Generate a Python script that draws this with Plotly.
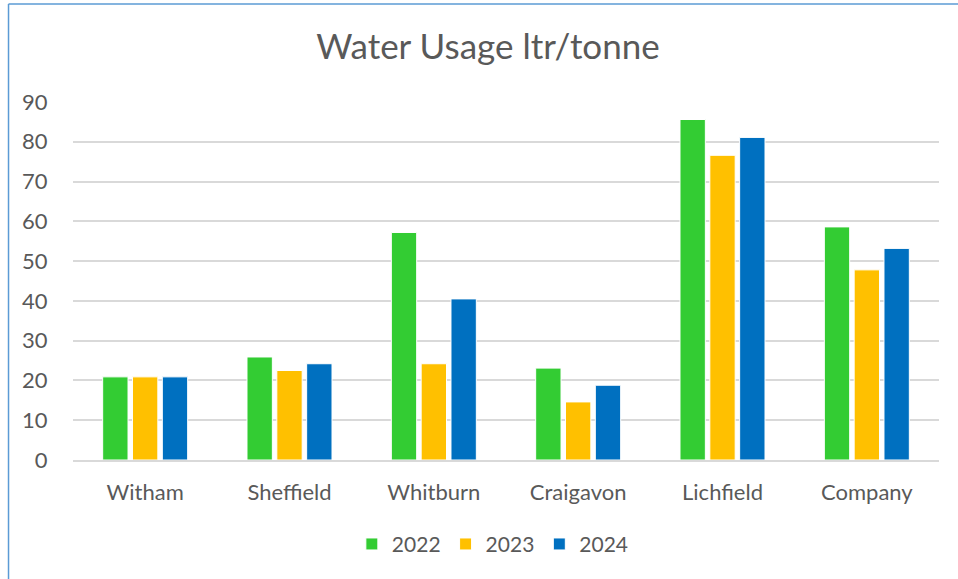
import plotly.graph_objects as go

categories = ["Witham", "Sheffield", "Whitburn", "Craigavon", "Lichfield", "Company"]
years = ["2022", "2023", "2024"]
v2022 = [20.9, 25.9, 57.2, 23.1, 85.6, 58.6]
v2023 = [20.9, 22.5, 24.2, 14.6, 76.6, 47.8]
v2024 = [20.9, 24.2, 40.5, 18.8, 81.1, 53.2]
colors = ["#33CC33", "#FFC000", "#0070C0"]
y_ticks = [0, 10, 20, 30, 40, 50, 60, 70, 80, 90]

FONT = "Lato, Open Sans, sans-serif"
TXT = "#595959"

fig = go.Figure()
for name, vals, col in zip(years, [v2022, v2023, v2024], colors):
    fig.add_trace(go.Bar(
        x=categories, y=vals, name=name,
        marker=dict(color=col, line=dict(color="white", width=1)),
    ))

# plot area in pixels
L, R, T, B = 73, 939.3, 101.7, 460.5
W, H = 958, 579
pw, ph = R - L, B - T

def px_x(px):
    return (px - L) / pw

def px_y(py):
    return (B - py) / ph

fig.update_layout(
    width=W, height=H,
    margin=dict(l=L, r=W - R, t=T, b=H - B, pad=0),
    paper_bgcolor="white", plot_bgcolor="white",
    barmode="group", bargap=0.38, bargroupgap=0.15,
    title=dict(text="Water Usage ltr/tonne", x=488 / W, xanchor="center",
               y=1 - 47 / H, yanchor="middle", yref="container",
               font=dict(family=FONT, size=35, color=TXT)),
    font=dict(family=FONT, size=22, color=TXT),
    showlegend=True,
    legend=dict(orientation="h", x=px_x(493), xanchor="center",
                y=px_y(545), yanchor="middle",
                font=dict(family=FONT, size=21, color=TXT),
                itemwidth=30, traceorder="normal"),
    xaxis=dict(showgrid=False, showline=True, linecolor="#D9D9D9", linewidth=1.5,
               ticks="outside", ticklen=12, tickcolor="rgba(0,0,0,0)",
               tickfont=dict(family=FONT, size=22, color=TXT)),
    yaxis=dict(range=[0, 90], tickvals=y_ticks, showgrid=True, gridcolor="#D9D9D9",
               gridwidth=1.5, zeroline=False, showline=False,
               ticks="outside", ticklen=20, tickcolor="rgba(0,0,0,0)",
               tickfont=dict(family=FONT, size=22, color=TXT)),
    shapes=[
        dict(type="line", xref="paper", yref="paper", x0=px_x(8.5), x1=px_x(8.5),
             y0=px_y(3.5), y1=px_y(H + 5), line=dict(color="#5B9BD5", width=1.5)),
        dict(type="line", xref="paper", yref="paper", x0=px_x(8.5), x1=px_x(W + 5),
             y0=px_y(3.5), y1=px_y(3.5), line=dict(color="#5B9BD5", width=1.5)),
    ],
)

fig.write_html("out.html", config={"displayModeBar": False},
               post_script="document.body.style.margin='0';")
